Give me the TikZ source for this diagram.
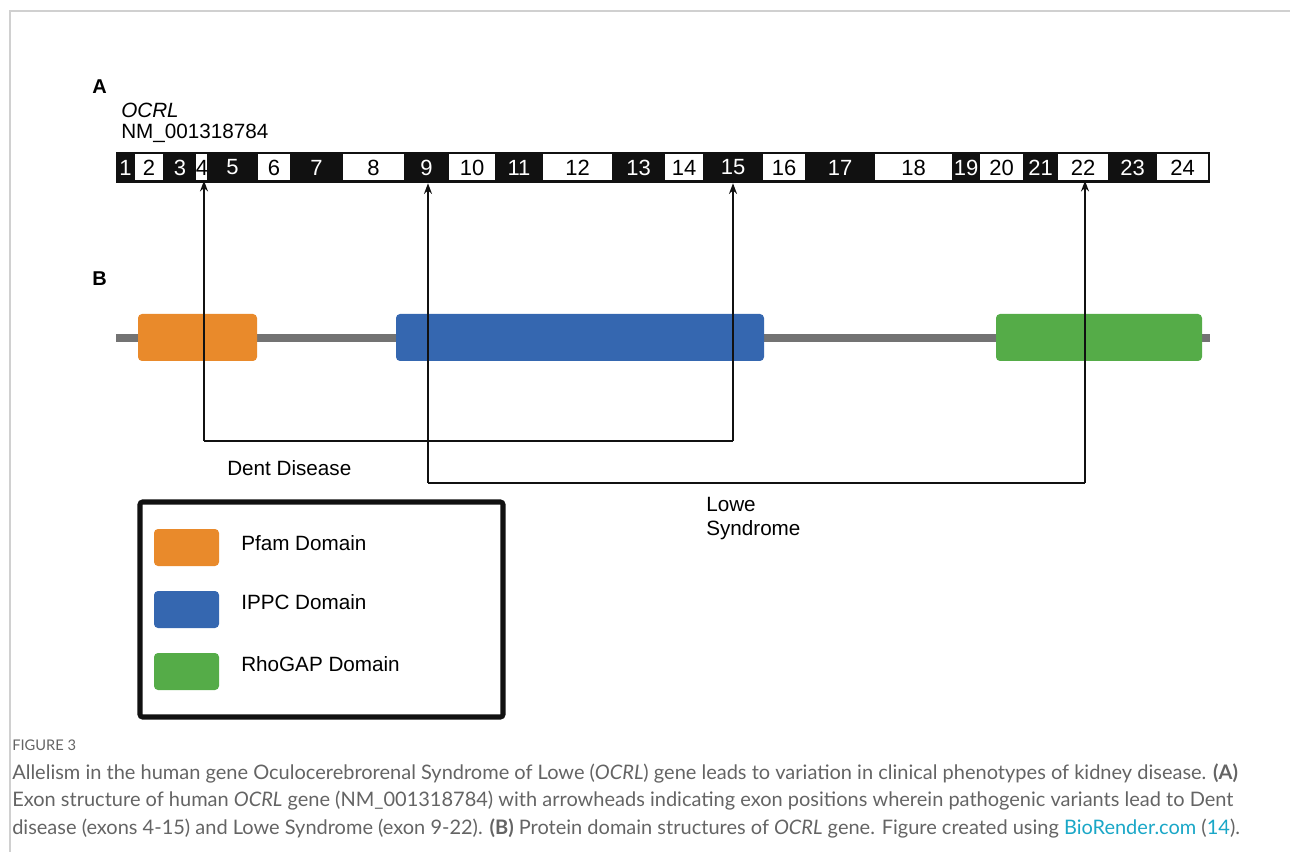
\documentclass[tikz,border=0pt]{standalone}
\usepackage{fontspec}
\setmainfont{Liberation Sans}
\newfontfamily\capfont{Lato}
\usetikzlibrary{arrows.meta}
\definecolor{pfam}{HTML}{E98A2B}
\definecolor{ippc}{HTML}{3567B0}
\definecolor{rho}{HTML}{55AC48}
\definecolor{linegray}{HTML}{737373}
\definecolor{capgray}{HTML}{646464}
\definecolor{linkteal}{HTML}{1AA7C7}
\definecolor{framegray}{HTML}{D0D0D0}
\definecolor{exblack}{HTML}{111111}
\begin{document}
\begin{tikzpicture}[x=0.75pt,y=-0.75pt,
  exodd/.style={fill=exblack,text=white,inner sep=0pt,minimum height=31*0.75pt,font=\fontsize{16.5}{18}\selectfont},
  exeven/.style={fill=white,text=black,inner sep=0pt,minimum height=26*0.75pt,font=\fontsize{16.5}{18}\selectfont},
  dombox/.style={rounded corners=3pt,inner sep=0pt,minimum height=47*0.75pt},
  swatch/.style={rounded corners=3pt,inner sep=0pt,minimum width=65*0.75pt,minimum height=37*0.75pt},
  lbl/.style={anchor=west,inner sep=0pt,font=\fontsize{15.5}{18}\selectfont},
  panel/.style={anchor=west,inner sep=0pt,font=\bfseries\fontsize{15}{18}\selectfont},
  conn/.style={line width=1.2pt,draw=exblack},
  arr/.style={conn,-{Stealth[length=8pt,width=6pt]}},
  captxt/.style={anchor=west,inner sep=0pt,text=capgray,font=\capfont\fontsize{15}{18}\selectfont}
]
\useasboundingbox (0,0) rectangle (1290,852);
% frame
\draw[framegray,line width=1pt] (10,852) -- (10,11) -- (1290,11);
% panel labels
\node[panel] (pA) at (92,87) {A};
\node[lbl,font=\itshape\fontsize{15.5}{18}\selectfont] (gname) at (121,110) {OCRL};
\node[lbl] (acc) at (121,133) {NM\_001318784};
\node[panel] (pB) at (92,279) {B};
% exon bar
\fill[exblack] (116,152) rectangle (1210,183);
\foreach \n/\a/\b/\s in {1/116/135/exodd,2/135/163/exeven,3/163/197/exodd,4/197/207/exeven,
  5/207/258/exodd,6/258/290/exeven,7/290/343/exodd,8/343/404/exeven,9/404/449/exodd,
  10/449/495/exeven,11/495/543/exodd,12/543/612/exeven,13/612/665/exodd,14/665/703/exeven,
  15/703/763/exodd,16/763/805/exeven,17/805/875/exodd,18/875/952/exeven,19/952/980/exodd,
  20/980/1023/exeven,21/1023/1058/exodd,22/1058/1108/exeven,23/1108/1157/exodd,24/1157/1208/exeven}
  \node[\s,minimum width={(\b-\a)*0.75pt}] (e\n) at ({(\a+\b)/2},167.5) {\n};
% protein
\draw[linegray,line width=6pt] (116,338) -- (1210,338);
\node[dombox,fill=pfam,minimum width=119*0.75pt] (dpfam) at (197.5,337.5) {};
\node[dombox,fill=ippc,minimum width=368*0.75pt] (dippc) at (580,337.5) {};
\node[dombox,fill=rho,minimum width=206*0.75pt] (drho) at (1099,337.5) {};
% connectors
\coordinate (d1) at (204,441);
\coordinate (d2) at (733,441);
\coordinate (l1) at (428,483);
\coordinate (l2) at (1085,483);
\draw[arr] (d1) -- (d1 |- e4.south);
\draw[conn] (d1) -- (d2);
\draw[arr] (d2) -- (d2 |- e15.south);
\draw[arr] (l1) -- (l1 |- e9.south);
\draw[conn] (l1) -- (l2);
\draw[arr] (l2) -- (l2 |- e22.south);
\node[lbl] (dent) at (227,468) {Dent Disease};
\node[lbl,align=left,font=\fontsize{15.5}{18}\selectfont] (lowe) at (706,519) {Lowe\\Syndrome};
% legend
\draw[line width=3.8pt,draw=exblack,rounded corners=2pt] (140,502) rectangle (503,717);
\node[swatch,fill=pfam] (sw1) at (186.5,547.5) {};
\node[swatch,fill=ippc] (sw2) at (186.5,609.5) {};
\node[swatch,fill=rho] (sw3) at (186.5,671.5) {};
\node[lbl] (t1) at (241,543) {Pfam Domain};
\node[lbl] (t2) at (241,602) {IPPC Domain};
\node[lbl] (t3) at (241,664) {RhoGAP Domain};
% caption
\node[captxt,font=\capfont\fontsize{11}{13}\selectfont] (fig) at (12,745) {FIGURE 3};
\node[captxt] (c1) at (12,773) {Allelism in the human gene Oculocerebrorenal Syndrome of Lowe (\textit{OCRL}) gene leads to variation in clinical phenotypes of kidney disease. \textbf{(A)}};
\node[captxt] (c2) at (12,801) {Exon structure of human \textit{OCRL} gene (NM\_001318784) with arrowheads indicating exon positions wherein pathogenic variants lead to Dent};
\node[captxt] (c3) at (12,828) {disease (exons 4-15) and Lowe Syndrome (exon 9-22). \textbf{(B)} Protein domain structures of \textit{OCRL} gene. Figure created using \textcolor{linkteal}{BioRender.com} (\textcolor{linkteal}{14}).};
\end{tikzpicture}
\end{document}
